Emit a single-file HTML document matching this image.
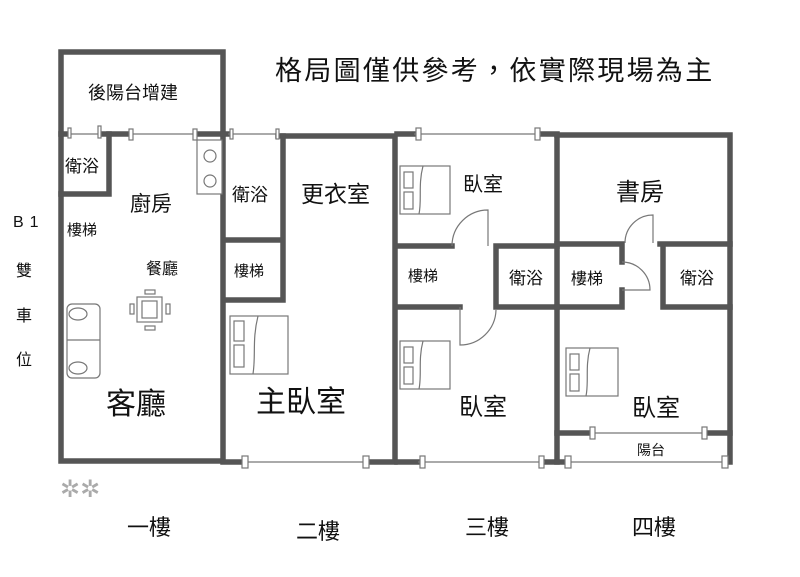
<!DOCTYPE html>
<html><head><meta charset="utf-8"><style>
body{margin:0;background:#fff}
svg{display:block}
text{font-family:"Liberation Sans","Noto Sans CJK TC",sans-serif;fill:#111}
</style></head><body>
<svg width="800" height="577" viewBox="0 0 800 577" xmlns="http://www.w3.org/2000/svg">
<g stroke="#555" stroke-width="5.5" fill="none" stroke-linecap="square">
<path d="M61,52 H223 V461 H61 Z"/>
<path d="M61,134 H68 M101,134 H130 M197,134 H223"/>
<path d="M61,194 H109 V134"/>
<path d="M223,134 H228 M278,136 H395 V462 M223,462 H243 M369,462 H395"/>
<path d="M283,136 V300 M225,240 H282 M225,300 H282"/>
<path d="M397,134 H414 M541,134 H557 V462 M397,462 H418 M545,462 H557"/>
<path d="M397,246 H452 M496,246 V307 M496,246 H557 M496,307 H557 M397,307 H460"/>
<path d="M557,135 H730 V462 M557,462 H565 M727,462 H730"/>
<path d="M557,244 H622 V262 M622,290 V307 H557 M660,244 H730 M663,244 V307 H730 M557,433 H592 M705,433 H730"/>
</g>
<g stroke="#777" stroke-width="1.2" fill="#fff">
<line x1="68" y1="134" x2="101" y2="134"/><line x1="130" y1="134" x2="197" y2="134"/>
<line x1="228" y1="134" x2="278" y2="134"/><line x1="243" y1="462" x2="369" y2="462"/>
<line x1="414" y1="134" x2="541" y2="134"/><line x1="418" y1="462" x2="545" y2="462"/>
<line x1="592" y1="433" x2="705" y2="433"/><line x1="565" y1="462" x2="727" y2="462"/>
<rect x="68" y="128" width="3" height="10"/><rect x="98" y="126" width="3" height="12"/>
<rect x="129" y="129" width="4" height="11"/><rect x="193" y="129" width="4" height="11"/>
<rect x="230" y="129" width="3" height="10"/><rect x="276" y="129" width="3" height="10"/>
<rect x="242" y="456" width="6" height="12"/><rect x="363" y="456" width="6" height="12"/>
<rect x="416" y="128" width="5" height="12"/><rect x="535" y="128" width="5" height="12"/>
<rect x="420" y="456" width="5" height="12"/><rect x="539" y="456" width="5" height="12"/>
<rect x="590" y="427" width="5" height="12"/><rect x="702" y="427" width="5" height="12"/>
<rect x="565" y="456" width="6" height="12"/><rect x="722" y="456" width="6" height="12"/>
<rect x="197" y="140" width="25" height="54"/>
<circle cx="210" cy="156" r="6"/><circle cx="210" cy="181" r="6"/>
<path d="M452,246 A36,36 0 0 1 488,210 V246" fill="none"/>
<path d="M460,307 V345 A36,36 0 0 0 496,310" fill="none"/>
<path d="M625,243 A28,28 0 0 1 653,215 V243" fill="none"/>
<path d="M622,262 A28,28 0 0 1 650,290 H622" fill="none"/>
<rect x="230" y="316" width="58" height="58"/><rect x="234" y="321" width="10" height="20"/><rect x="234" y="345" width="10" height="22"/>
<path d="M258,316 C252,340 256,355 253,374" fill="none"/>
<rect x="400" y="166" width="50" height="48"/><rect x="404" y="172" width="9" height="16"/><rect x="404" y="192" width="9" height="17"/>
<path d="M423,166 C418,185 422,200 419,214" fill="none"/>
<rect x="400" y="341" width="50" height="48"/><rect x="404" y="347" width="9" height="16"/><rect x="404" y="367" width="9" height="17"/>
<path d="M423,341 C418,360 422,375 419,389" fill="none"/>
<rect x="566" y="348" width="52" height="48"/><rect x="570" y="354" width="9" height="16"/><rect x="570" y="374" width="9" height="17"/>
<path d="M590,348 C585,367 589,382 586,396" fill="none"/>
<rect x="67" y="304" width="33" height="74" rx="5"/><line x1="67" y1="340" x2="100" y2="340"/>
<ellipse cx="78" cy="314" rx="9" ry="6"/><ellipse cx="78" cy="368" rx="9" ry="6"/>
<rect x="137" y="297" width="25" height="25"/><rect x="142" y="301" width="15" height="17"/>
<rect x="145" y="290" width="10" height="4"/><rect x="145" y="326" width="10" height="4"/>
<rect x="130" y="304" width="4" height="10"/><rect x="166" y="304" width="4" height="10"/>
</g>
<text x="275" y="80" font-size="27" letter-spacing="2.3">格局圖僅供參考，依實際現場為主</text>
<text x="88" y="99" font-size="18">後陽台增建</text>
<text x="65" y="172" font-size="17">衛浴</text>
<text x="130" y="211" font-size="21">廚房</text>
<text x="67" y="235" font-size="15">樓梯</text>
<text x="146" y="274" font-size="16">餐廳</text>
<text x="106" y="414" font-size="30">客廳</text>
<text x="232" y="201" font-size="18">衛浴</text>
<text x="301" y="202" font-size="23">更衣室</text>
<text x="234" y="276" font-size="15">樓梯</text>
<text x="256" y="412" font-size="30">主臥室</text>
<text x="463" y="191" font-size="20">臥室</text>
<text x="408" y="281" font-size="15">樓梯</text>
<text x="509" y="284" font-size="17">衛浴</text>
<text x="459" y="415" font-size="24">臥室</text>
<text x="616" y="200" font-size="24">書房</text>
<text x="571" y="284" font-size="16">樓梯</text>
<text x="680" y="284" font-size="17">衛浴</text>
<text x="632" y="416" font-size="24">臥室</text>
<text x="637" y="455" font-size="14">陽台</text>
<text x="13" y="227" font-size="16" letter-spacing="6">B1</text>
<text x="16" y="276" font-size="16">雙</text>
<text x="16" y="321" font-size="16">車</text>
<text x="16" y="365" font-size="16">位</text>
<text x="127" y="535" font-size="22">一樓</text>
<text x="296" y="539" font-size="22">二樓</text>
<text x="465" y="535" font-size="22">三樓</text>
<text x="632" y="535" font-size="22">四樓</text>
<text x="60" y="497" font-size="24" style="fill:#aaa">✲✲</text>
</svg>
</body></html>
